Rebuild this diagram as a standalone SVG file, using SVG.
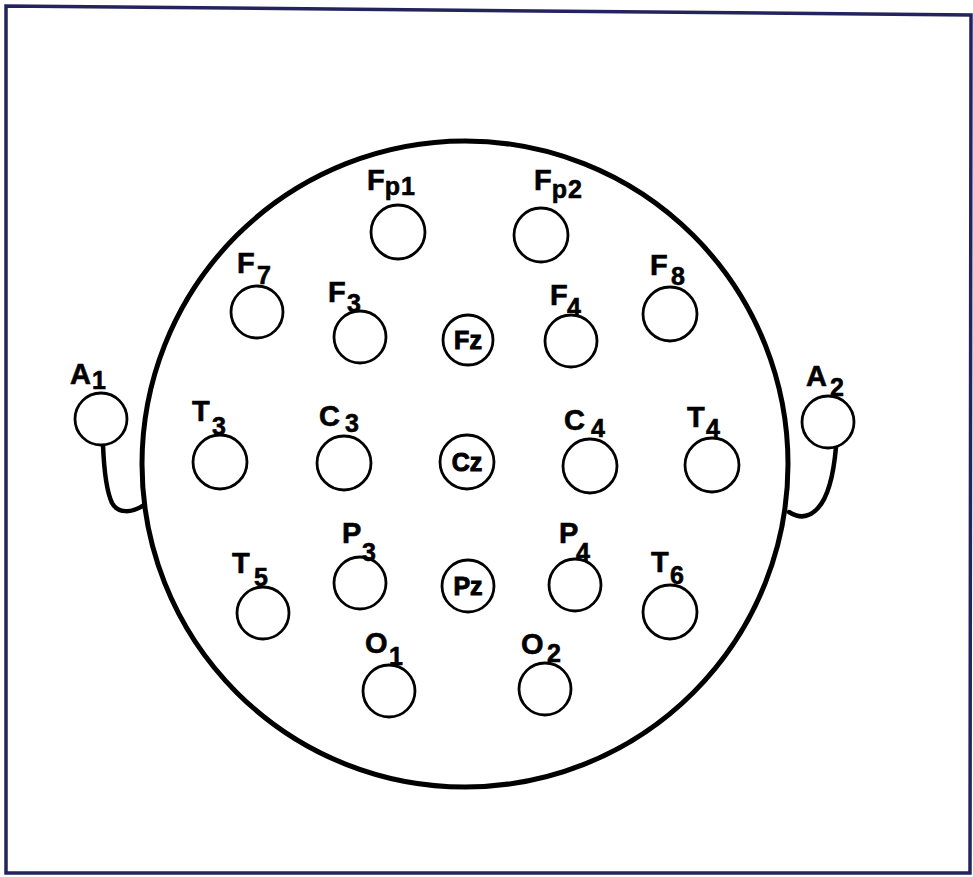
<svg xmlns="http://www.w3.org/2000/svg" width="973" height="877" viewBox="0 0 973 877">
<style>
.frame{fill:none;stroke:#23235e;stroke-width:3.5}
.head{fill:none;stroke:#000;stroke-width:5}
.el{fill:#fff;stroke:#000;stroke-width:2.8}
.wire{fill:none;stroke:#000;stroke-width:4.5;stroke-linecap:round}
text{font-family:"Liberation Sans",Arial,Helvetica,sans-serif;font-weight:bold;fill:#000;stroke:#000;stroke-width:0.6}
.L{font-size:29px}
.d{font-size:25px}
.in{font-size:25px;text-anchor:middle;stroke-width:1}
</style>
<rect width="973" height="877" fill="#fff"/>
<polygon class="frame" points="6,6 971,15 970,873 6,873"/>
<g id="head"><circle class="head" cx="465" cy="464" r="323"/></g>
<g id="connectors">
<path class="wire" d="M103,445 C104,470 106,490 112,503 C118,514 132,513 144,505"/>
<path class="wire" d="M836,447 C834,470 830,495 818,508 C810,517 800,519 789,512"/>
</g>
<g id="Fp1"><circle class="el" cx="398" cy="232" r="27"/><text class="L" x="367" y="190">F<tspan class="d" dy="5" letter-spacing="1">p1</tspan></text></g>
<g id="Fp2"><circle class="el" cx="541" cy="235" r="27"/><text class="L" x="534" y="190">F<tspan class="d" dy="8" letter-spacing="1">p2</tspan></text></g>
<g id="F7"><circle class="el" cx="257" cy="312" r="26"/><text class="L" x="237" y="273">F</text><text class="d" x="257" y="284">7</text></g>
<g id="F3"><circle class="el" cx="360" cy="337" r="26"/><text class="L" x="328" y="302">F</text><text class="d" x="347" y="312">3</text></g>
<g id="Fz"><circle class="el" cx="468" cy="340" r="25"/><text class="in" x="468" y="349">Fz</text></g>
<g id="F4"><circle class="el" cx="571" cy="341" r="26"/><text class="L" x="550" y="305">F</text><text class="d" x="567" y="316">4</text></g>
<g id="F8"><circle class="el" cx="670" cy="314" r="27"/><text class="L" x="650" y="275">F</text><text class="d" x="671" y="285">8</text></g>
<g id="A1"><circle class="el" cx="101" cy="419" r="26"/><text class="L" x="70" y="384">A</text><text class="d" x="92" y="389">1</text></g>
<g id="A2"><circle class="el" cx="828" cy="422" r="26"/><text class="L" x="806" y="386">A</text><text class="d" x="830" y="396">2</text></g>
<g id="T3"><circle class="el" cx="220" cy="462" r="27"/><text class="L" x="192" y="421">T</text><text class="d" x="212" y="435">3</text></g>
<g id="C3"><circle class="el" cx="344" cy="463" r="27"/><text class="L" x="319" y="426">C</text><text class="d" x="345" y="432">3</text></g>
<g id="Cz"><circle class="el" cx="467" cy="462" r="27"/><text class="in" x="467" y="471">Cz</text></g>
<g id="C4"><circle class="el" cx="590" cy="466" r="27"/><text class="L" x="564" y="430">C</text><text class="d" x="591" y="437">4</text></g>
<g id="T4"><circle class="el" cx="712" cy="465" r="27"/><text class="L" x="687" y="427">T</text><text class="d" x="706" y="437">4</text></g>
<g id="T5"><circle class="el" cx="263" cy="613" r="26"/><text class="L" x="232" y="573">T</text><text class="d" x="254" y="586">5</text></g>
<g id="P3"><circle class="el" cx="360" cy="583" r="26"/><text class="L" x="342" y="543">P</text><text class="d" x="362" y="561">3</text></g>
<g id="Pz"><circle class="el" cx="468" cy="586" r="26"/><text class="in" x="468" y="595">Pz</text></g>
<g id="P4"><circle class="el" cx="575" cy="585" r="26"/><text class="L" x="559" y="543">P</text><text class="d" x="576" y="561">4</text></g>
<g id="T6"><circle class="el" cx="670" cy="612" r="27"/><text class="L" x="651" y="572">T</text><text class="d" x="670" y="584">6</text></g>
<g id="O1"><circle class="el" cx="389" cy="691" r="26"/><text class="L" x="365" y="653">O</text><text class="d" x="389" y="665">1</text></g>
<g id="O2"><circle class="el" cx="545" cy="689" r="26"/><text class="L" x="521" y="654">O</text><text class="d" x="547" y="662">2</text></g>
</svg>
